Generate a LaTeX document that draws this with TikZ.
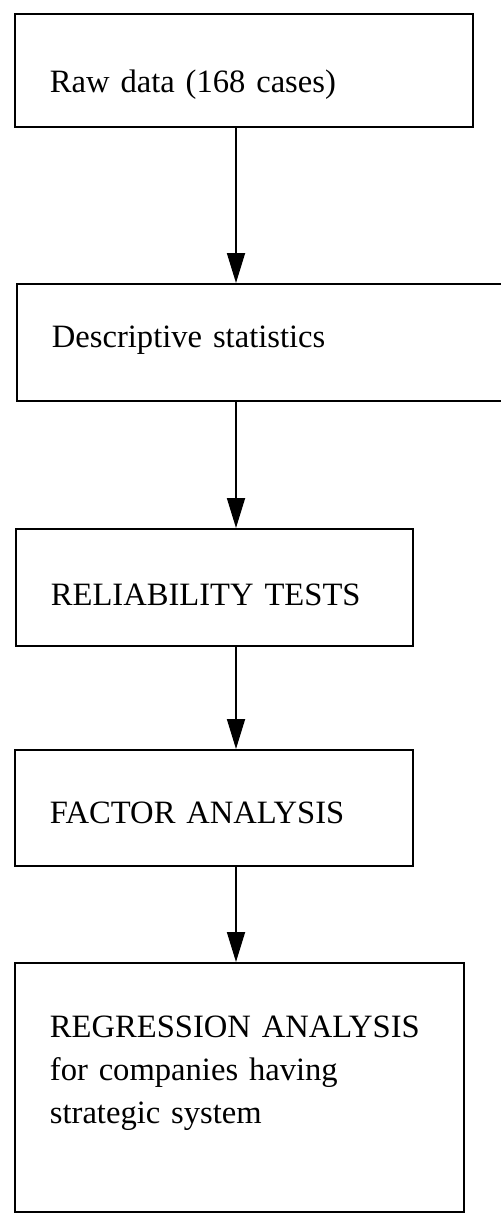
\documentclass[tikz,border=0pt]{standalone}
\usepackage{fontspec}
\setmainfont{Liberation Serif}
\usetikzlibrary{arrows.meta}

\begin{document}
\begin{tikzpicture}[
  x=0.5pt,
  y=-0.5pt,
  font=\fontsize{16.3}{21.5}\selectfont,
  stage/.style={
    draw=black,
    line width=0.9pt,
    anchor=north west,
    align=left,
    inner xsep=17.5pt,
    inner ysep=0pt
  },
  flow/.style={
    draw=black,
    line width=0.9pt,
    -{Triangle[length=15pt,width=9pt]}
  }
]

\useasboundingbox (0,0) rectangle (501,1214);

\node[stage, text width=194pt, text height=39.5pt, text depth=17pt]
  (raw) at (14,13) {Raw data (168 cases)};
\node[stage, text width=210pt, text height=32pt, text depth=26.5pt]
  (desc) at (16,283) {Descriptive statistics};
\node[stage, text width=163.5pt, text height=38.5pt, text depth=20pt]
  (rel) at (15,528) {RELIABILITY TESTS};
\node[stage, text width=164pt, text height=37pt, text depth=21pt]
  (fac) at (14,749) {FACTOR ANALYSIS};
\node[stage, text width=189.5pt, text height=37.5pt, text depth=87pt]
  (reg) at (14,962) {REGRESSION ANALYSIS\\
    for companies having\\
    strategic system};

% Arrows down the middle.
\coordinate (spine) at (236,0);
\draw[flow] (spine |- raw.south) -- (spine |- desc.north);
\draw[flow] (spine |- desc.south) -- (spine |- rel.north);
\draw[flow] (spine |- rel.south) -- (spine |- fac.north);
\draw[flow] (spine |- fac.south) -- (spine |- reg.north);

\end{tikzpicture}
\end{document}
